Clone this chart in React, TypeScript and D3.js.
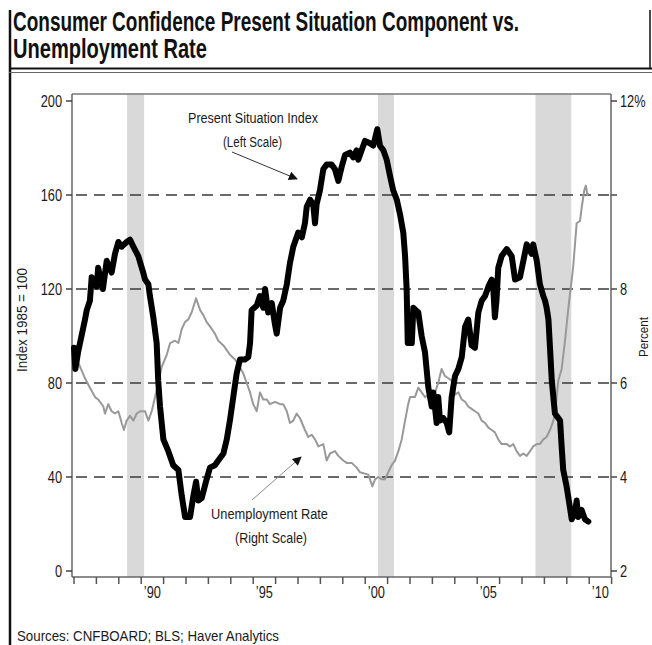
import React, { useLayoutEffect, useRef, useState } from 'react';
import * as d3 from 'd3';

const W = 652;
const H = 645;

// Present Situation Index (left scale), decimal year / value
const psiDates = [1987.0, 1987.06, 1987.18, 1987.49, 1987.57, 1987.71, 1987.79, 1988.01, 1988.08, 1988.29, 1988.46, 1988.68, 1988.83, 1988.98, 1989.13, 1989.35, 1989.5, 1989.65, 1989.87, 1990.09, 1990.17, 1990.32, 1990.39, 1990.54, 1990.69, 1990.76, 1990.84, 1990.99, 1991.21, 1991.43, 1991.66, 1991.81, 1991.96, 1992.18, 1992.33, 1992.45, 1992.55, 1992.7, 1992.92, 1993.07, 1993.29, 1993.44, 1993.67, 1993.82, 1993.96, 1994.11, 1994.26, 1994.41, 1994.63, 1994.78, 1994.86, 1994.93, 1995.16, 1995.3, 1995.45, 1995.53, 1995.67, 1995.83, 1995.97, 1996.05, 1996.2, 1996.34, 1996.5, 1996.64, 1996.79, 1997.01, 1997.17, 1997.31, 1997.39, 1997.54, 1997.68, 1997.76, 1997.83, 1997.98, 1998.13, 1998.28, 1998.5, 1998.65, 1998.8, 1998.95, 1999.1, 1999.32, 1999.47, 1999.62, 1999.69, 1999.84, 1999.99, 2000.21, 2000.36, 2000.54, 2000.66, 2000.81, 2000.96, 2001.11, 2001.25, 2001.41, 2001.55, 2001.7, 2001.78, 2001.85, 2001.9, 2002.08, 2002.15, 2002.37, 2002.52, 2002.67, 2002.82, 2002.97, 2003.04, 2003.19, 2003.26, 2003.34, 2003.49, 2003.64, 2003.75, 2003.86, 2004.01, 2004.16, 2004.31, 2004.46, 2004.6, 2004.75, 2004.9, 2005.05, 2005.2, 2005.35, 2005.5, 2005.65, 2005.72, 2005.79, 2005.86, 2005.94, 2006.09, 2006.32, 2006.54, 2006.69, 2006.91, 2007.06, 2007.21, 2007.43, 2007.5, 2007.66, 2007.8, 2007.95, 2008.03, 2008.1, 2008.18, 2008.25, 2008.33, 2008.47, 2008.7, 2008.77, 2008.84, 2008.99, 2009.14, 2009.22, 2009.37, 2009.44, 2009.51, 2009.66, 2009.81, 2009.96];
const psiValues = [95, 86, 93, 107, 111, 115, 125, 121, 129, 120, 132, 127, 135, 140, 138, 140, 141, 138, 134, 127, 124, 122, 117, 108, 97, 81, 70, 56, 51, 45, 43, 32, 23, 23, 32, 38, 30, 31, 39, 44, 45, 47, 50, 56, 64, 74, 84, 90, 90, 91, 97, 111, 113, 117, 112, 120, 110, 114, 105, 101, 112, 115, 122, 131, 138, 144, 142, 148, 155, 158, 156, 148, 156, 162, 171, 173, 173, 171, 166, 172, 177, 178, 176, 179, 175, 179, 183, 182, 181, 188, 181, 179, 175, 168, 162, 158, 152, 144, 134, 120, 97, 97, 112, 110, 100, 93, 78, 70, 76, 63, 74, 64, 65, 63, 59, 74, 83, 86, 91, 104, 107, 96, 95, 110, 115, 117, 121, 124, 120, 108, 115, 129, 134, 137, 134, 124, 125, 132, 139, 135, 139, 132, 122, 117, 115, 112, 107, 95, 81, 67, 64, 53, 43, 36, 27, 22, 25, 30, 23, 26, 22, 21];

// Unemployment rate (right scale, %)
const unempDates = [1987.0, 1987.27, 1987.49, 1987.71, 1987.94, 1988.08, 1988.31, 1988.38, 1988.53, 1988.68, 1988.83, 1988.98, 1989.13, 1989.23, 1989.35, 1989.5, 1989.65, 1989.8, 1989.95, 1990.17, 1990.32, 1990.47, 1990.62, 1990.76, 1990.92, 1991.14, 1991.29, 1991.51, 1991.66, 1991.81, 1991.96, 1992.1, 1992.25, 1992.45, 1992.63, 1992.77, 1992.92, 1993.15, 1993.29, 1993.44, 1993.67, 1993.82, 1993.96, 1994.19, 1994.33, 1994.56, 1994.71, 1994.86, 1995.0, 1995.16, 1995.3, 1995.45, 1995.6, 1995.75, 1995.97, 1996.2, 1996.34, 1996.5, 1996.64, 1996.79, 1996.94, 1997.09, 1997.31, 1997.46, 1997.61, 1997.76, 1997.91, 1998.13, 1998.28, 1998.43, 1998.65, 1998.8, 1999.02, 1999.17, 1999.4, 1999.62, 1999.77, 2000.14, 2000.32, 2000.44, 2000.58, 2000.74, 2000.88, 2001.03, 2001.18, 2001.33, 2001.48, 2001.63, 2001.78, 2001.92, 2002.0, 2002.22, 2002.37, 2002.52, 2002.67, 2002.82, 2002.97, 2003.12, 2003.26, 2003.41, 2003.56, 2003.71, 2003.86, 2004.01, 2004.16, 2004.31, 2004.46, 2004.6, 2004.75, 2004.9, 2005.05, 2005.2, 2005.35, 2005.5, 2005.65, 2005.79, 2005.94, 2006.09, 2006.32, 2006.46, 2006.61, 2006.76, 2006.91, 2007.06, 2007.21, 2007.36, 2007.5, 2007.66, 2007.8, 2007.95, 2008.1, 2008.25, 2008.4, 2008.47, 2008.62, 2008.77, 2008.92, 2009.07, 2009.22, 2009.29, 2009.44, 2009.59, 2009.67, 2009.78, 2009.85, 2009.92, 2009.96];
const unempValues = [6.6, 6.35, 6.1, 5.9, 5.7, 5.65, 5.5, 5.35, 5.55, 5.4, 5.35, 5.4, 5.15, 5.0, 5.2, 5.3, 5.2, 5.35, 5.4, 5.4, 5.2, 5.4, 5.7, 6.0, 6.35, 6.6, 6.85, 6.9, 6.85, 7.15, 7.3, 7.35, 7.5, 7.8, 7.55, 7.45, 7.3, 7.15, 7.05, 6.9, 6.8, 6.7, 6.6, 6.5, 6.4, 6.2, 6.0, 5.8, 5.55, 5.4, 5.8, 5.65, 5.65, 5.55, 5.6, 5.55, 5.55, 5.4, 5.15, 5.2, 5.35, 5.25, 5.0, 4.85, 4.9, 4.8, 4.65, 4.7, 4.35, 4.5, 4.55, 4.45, 4.35, 4.3, 4.3, 4.2, 4.1, 4.05, 3.8, 3.95, 4.0, 3.95, 3.95, 4.1, 4.25, 4.35, 4.55, 4.8, 5.2, 5.55, 5.7, 5.7, 5.9, 5.8, 5.7, 5.75, 5.8, 5.8, 6.0, 6.3, 6.15, 6.1, 6.05, 5.75, 5.8, 5.65, 5.6, 5.5, 5.45, 5.4, 5.35, 5.2, 5.15, 5.05, 5.0, 4.95, 4.8, 4.7, 4.7, 4.65, 4.7, 4.55, 4.45, 4.5, 4.45, 4.55, 4.65, 4.7, 4.7, 4.8, 4.85, 5.0, 5.2, 5.35, 6.05, 6.3, 6.9, 7.6, 8.2, 8.5, 9.4, 9.45, 9.75, 10.1, 10.2, 10.0, 10.05];

const leftTicks = [0, 40, 80, 120, 160, 200];
const gridTicks = [40, 80, 120, 160];
const rightTicks = [2, 4, 6, 8, 10, 12];
const rightTickLabels = ['2', '4', '6', '8', '', '12%'];
const xLabelYears = [1990, 1995, 2000, 2005, 2010];
const xLabels = ['\u201990', '\u201995', '\u201900', '\u201905', '\u201910'];
const recessionStarts = [1989.37, 2000.57, 2007.6];
const recessionEnds = [1990.13, 2001.29, 2009.2];

const FONT = "'Liberation Sans', Arial, sans-serif";

// Text that is horizontally squeezed (by a real scale transform) to a target width,
// or by a fixed factor when no width is given.
function FitText(props: any) {
  const { x, y, size, width, sx = 0.78, anchor = 'start', weight = 'normal', fill = '#1a1a1a', rotate = 0, children } = props;
  const ref = useRef<SVGTextElement>(null);
  const [scale, setScale] = useState<number>(width ? 0.78 : sx);
  useLayoutEffect(() => {
    if (width && ref.current) {
      const n = ref.current.getComputedTextLength();
      if (n > 0) setScale(width / n);
    }
  }, [width, children, size]);
  return (
    <text
      ref={ref}
      transform={`translate(${x},${y}) rotate(${rotate}) scale(${scale},1)`}
      fontSize={size}
      textAnchor={anchor}
      fontWeight={weight}
      fill={fill}
      fontFamily={FONT}
    >
      {children}
    </text>
  );
}

export default function App() {
  const plotL = 72, plotR = 611, plotT = 94, plotB = 577;
  const x = d3.scaleLinear().domain([1987, 2011]).range([74, 611.6]);
  const yL = d3.scaleLinear().domain([0, 200]).range([571, 101]);
  const yR = d3.scaleLinear().domain([2, 12]).range([571, 101]);

  const psi = psiDates.map((d, i) => [d, psiValues[i]] as [number, number]);
  const un = unempDates.map((d, i) => [d, unempValues[i]] as [number, number]);
  const psiLine = d3.line<[number, number]>().x(d => x(d[0])).y(d => yL(d[1]));
  const unLine = d3.line<[number, number]>().x(d => x(d[0])).y(d => yR(d[1]));
  const years = d3.range(1987, 2012);

  return (
    <svg width={W} height={H} style={{ position: 'absolute', left: 0, top: 0, background: '#fff' }}>
      <defs>
        <marker id="ah" viewBox="0 0 10 10" refX="9" refY="5" markerWidth="11" markerHeight="9" markerUnits="userSpaceOnUse" orient="auto">
          <path d="M0,0 L10,5 L0,10 z" fill="#111" />
        </marker>
      </defs>
      <rect x={0} y={0} width={W} height={H} fill="#fff" />

      {/* title box */}
      <line x1={10} x2={10} y1={10} y2={H} stroke="#111" strokeWidth={2.5} />
      <line x1={650} x2={650} y1={10} y2={69} stroke="#111" strokeWidth={1.5} />
      <line x1={9} x2={652} y1={68.5} y2={68.5} stroke="#111" strokeWidth={2} />
      <line x1={9} x2={652} y1={72.5} y2={72.5} stroke="#666" strokeWidth={1} />
      <FitText x={13} y={31} size={27} weight="bold" fill="#111" width={506}>Consumer Confidence Present Situation Component vs.</FitText>
      <FitText x={13} y={58} size={27} weight="bold" fill="#111" width={194}>Unemployment Rate</FitText>

      {/* recession bands */}
      {recessionStarts.map((s, i) => (
        <rect key={i} x={x(s)} y={plotT} width={x(recessionEnds[i]) - x(s)} height={plotB - plotT} fill="#d9d9d9" />
      ))}

      {/* grid */}
      {gridTicks.map(t => (
        <line key={t} x1={plotL} x2={plotR} y1={yL(t)} y2={yL(t)} stroke="#3a3a3a" strokeWidth={1.5} strokeDasharray="11 7" strokeDashoffset={-4} />
      ))}

      {/* frame */}
      <line x1={plotL} x2={plotR} y1={plotT} y2={plotT} stroke="#777" strokeWidth={1.5} />
      <line x1={plotL} x2={plotL} y1={plotT} y2={plotB} stroke="#666" strokeWidth={1.5} />
      <line x1={plotR} x2={plotR} y1={plotT} y2={plotB} stroke="#666" strokeWidth={1.5} />
      <line x1={plotL} x2={plotR} y1={plotB} y2={plotB} stroke="#666" strokeWidth={1.5} />

      {/* left ticks */}
      {leftTicks.map(t => (
        <g key={t}>
          <line x1={66} x2={plotL} y1={yL(t)} y2={yL(t)} stroke="#444" strokeWidth={1.5} />
          <FitText x={62} y={yL(t) + 6} size={16} anchor="end" sx={0.8}>{String(t)}</FitText>
        </g>
      ))}
      {/* right ticks */}
      {rightTicks.map((t, i) => (
        <g key={t}>
          <line x1={plotR} x2={617} y1={yR(t)} y2={yR(t)} stroke="#444" strokeWidth={1.5} />
          {rightTickLabels[i] ? <FitText x={620} y={yR(t) + 6} size={16} sx={0.8}>{rightTickLabels[i]}</FitText> : null}
        </g>
      ))}
      {/* x ticks */}
      {years.map(yv => (
        <line key={yv} x1={x(yv)} x2={x(yv)} y1={plotB} y2={plotB + 7} stroke="#555" strokeWidth={1.5} />
      ))}
      {xLabelYears.map((yv, i) => (
        <FitText key={yv} x={x(yv + 0.5)} y={598} size={16} anchor="middle" sx={0.8}>{xLabels[i]}</FitText>
      ))}

      {/* series */}
      <path d={unLine(un) || ''} fill="none" stroke="#999" strokeWidth={2} strokeLinejoin="round" />
      <path d={psiLine(psi) || ''} fill="none" stroke="#000" strokeWidth={6} strokeLinejoin="round" strokeLinecap="round" />

      {/* annotations */}
      <FitText x={188} y={123} size={15} width={130}>Present Situation Index</FitText>
      <FitText x={223} y={147} size={15} width={59}>(Left Scale)</FitText>
      <line x1={232} y1={152} x2={297} y2={179} stroke="#333" strokeWidth={1} markerEnd="url(#ah)" />

      <FitText x={211} y={519} size={15} width={117}>Unemployment Rate</FitText>
      <FitText x={235} y={543} size={15} width={72}>(Right Scale)</FitText>
      <line x1={252} y1={500} x2={301} y2={457} stroke="#888" strokeWidth={1} markerEnd="url(#ah)" />

      {/* axis titles */}
      <FitText x={27} y={320} rotate={-90} size={14} anchor="middle" width={104}>Index 1985 = 100</FitText>
      <FitText x={648} y={337} rotate={-90} size={12} anchor="middle" width={40}>Percent</FitText>

      {/* source */}
      <FitText x={17} y={641} size={15} width={262}>Sources: CNFBOARD; BLS; Haver Analytics</FitText>
    </svg>
  );
}
